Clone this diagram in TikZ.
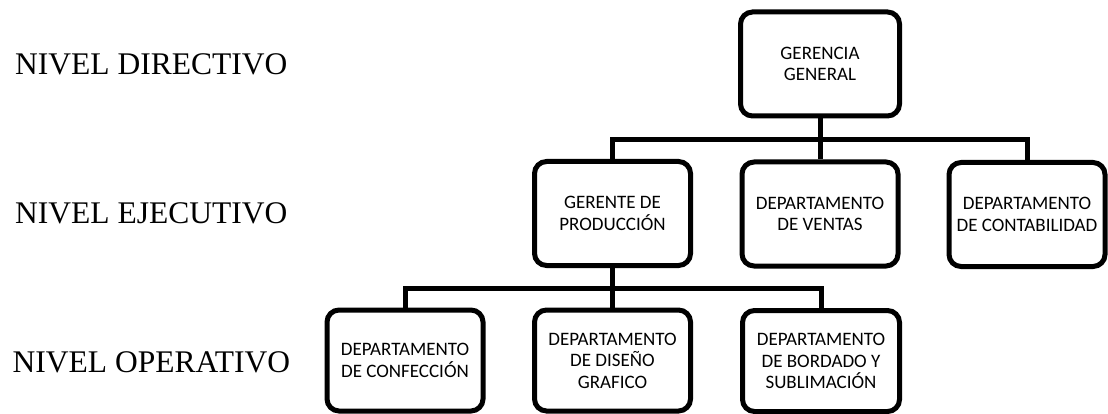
\documentclass[tikz,border=0pt]{standalone}
\usepackage{fontspec}
\setmainfont{Carlito}
\newfontfamily\levelfont{Liberation Serif}
\begin{document}
\begin{tikzpicture}[x=1pt,y=-1pt,
  unit/.style={draw=black, line width=5pt, rounded corners=12pt, fill=white,
    minimum width=156pt, minimum height=104pt, inner sep=0pt, align=center,
    font=\fontsize{19}{21.5}\selectfont},
  link/.style={draw=black, line width=5pt},
  levellabel/.style={anchor=base west, inner sep=0pt, font=\levelfont\fontsize{31.5}{36}\selectfont}]
\useasboundingbox (0,0) rectangle (1108,414);
% levels
\node[levellabel] (l1) at (15,75) {NIVEL DIRECTIVO};
\node[levellabel] (l2) at (15,223) {NIVEL EJECUTIVO};
\node[levellabel] (l3) at (12.5,372) {NIVEL OPERATIVO};
% units
\node[unit, minimum width=159pt] (gg) at (820,64) {GERENCIA\\GENERAL};
\node[unit] (gp) at (612.5,213.5) {GERENTE DE\\PRODUCCIÓN};
\node[unit] (ven) at (820,214) {DEPARTAMENTO\\DE VENTAS};
\node[unit] (con) at (1027,214.5) {DEPARTAMENTO\\DE CONTABILIDAD};
\node[unit, minimum height=101pt] (cf) at (405,360.5) {DEPARTAMENTO\\DE CONFECCIÓN};
\node[unit, minimum height=101pt] (dg) at (612.5,360.5) {DEPARTAMENTO\\DE DISEÑO\\GRAFICO};
\node[unit, minimum height=101pt, minimum width=157pt] (bs) at (821,361) {DEPARTAMENTO\\DE BORDADO Y\\SUBLIMACIÓN};
% buses
\coordinate (b1) at (0,140);
\coordinate (b2) at (0,288);
% connectors
\draw[link] (gg.south) -- (ven.north);
\draw[link] (gp.north) |- (con.north |- b1) -- (con.north);
\draw[link] (gp.south) -- (dg.north);
\draw[link] (cf.north) |- (bs.north |- b2) -- (bs.north);
\end{tikzpicture}
\end{document}
